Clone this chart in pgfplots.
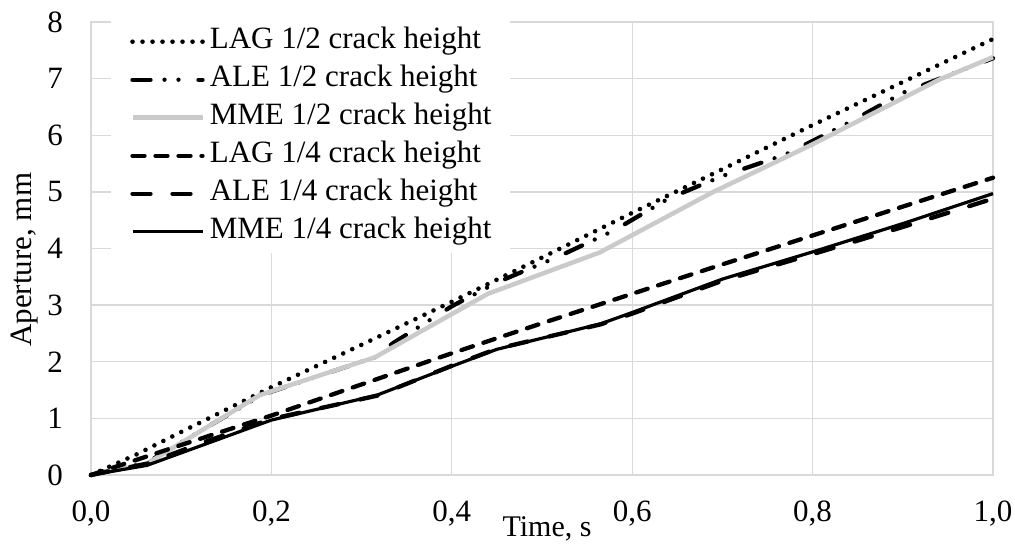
\documentclass[border=0pt]{standalone}
\usepackage{fontspec}
\setmainfont{Liberation Serif}
\usepackage{pgfplots}
\pgfplotsset{compat=1.18}
\definecolor{gridgray}{RGB}{217,217,217}
\definecolor{mmegray}{RGB}{202,202,202}
\begin{document}
\begin{tikzpicture}
\begin{axis}[
  at={(91bp,69bp)}, anchor=south west,
  scale only axis, width=902bp, height=453bp,
  xmin=0, xmax=1, ymin=0, ymax=8,
  xtick={0,0.2,0.4,0.6,0.8,1.0},
  xticklabels={{0,0},{0,2},{0,4},{0,6},{0,8},{1,0}},
  ytick={0,1,2,3,4,5,6,7,8},
  yticklabels={0,1,2,3,4,5,6,7,8},
  grid=major,
  grid style={draw=gridgray, line width=1.3bp},
  axis line style={draw=gridgray, line width=1.3bp},
  major tick length=0pt,
  tick style={draw=none},
  clip=false,
  xticklabel style={font=\fontsize{31bp}{36bp}\selectfont, anchor=base, inner sep=0pt, yshift=-46bp},
  yticklabel style={font=\fontsize{31bp}{36bp}\selectfont, anchor=east, inner sep=0pt, xshift=-28bp},
  xlabel={Time, s},
  xlabel style={at={(axis description cs:0.5,0)}, anchor=base, inner sep=0pt, yshift=-61bp, xshift=5bp, font=\fontsize{30bp}{34bp}\selectfont},
  ylabel={Aperture, mm},
  ylabel style={at={(axis description cs:-0.0732,0.475)}, anchor=center, inner sep=0pt, font=\fontsize{31bp}{35bp}\selectfont},
  legend image code/.code={\draw[#1] (0bp,0bp) -- (70bp,0bp);},
  legend style={at={(axis description cs:0.0222,1.0033)}, anchor=north west,
    draw=none, fill=white, inner xsep=19bp, inner ysep=7bp,
    row sep=10bp, column sep=5bp,
    font=\fontsize{31bp}{36bp}\selectfont,
    cells={anchor=west},
    nodes={inner sep=0pt, text height=21bp, text depth=7bp}},
  legend cell align=left,
]
% LAG 1/2
\addplot[black, line width=4.6bp, line cap=round, dash pattern=on 0bp off 10bp] coordinates {
(0,0) (0.05,0.36) (0.1,0.76) (0.2,1.55) (0.3,2.3) (0.4,3.06) (0.5,3.84) (0.6,4.63) (0.7,5.4) (0.8,6.18) (0.9,6.94) (1.0,7.7)};
\addlegendentry{LAG 1/2 crack height}
% ALE 1/2
\addplot[black, line width=4.3bp, line cap=round, dash pattern=on 18bp off 14bp on 0bp off 14bp on 0bp off 20bp] coordinates {
(0,0) (0.062,0.22) (0.19,1.42) (0.315,2.08) (0.335,2.33) (0.387,2.85) (0.4,2.98) (0.45,3.4) (0.52,3.87) (0.58,4.32) (0.64,4.88) (0.7,5.28) (0.77,5.66) (0.84,6.22) (0.9,6.75) (1.0,7.36)};
\addlegendentry{ALE 1/2 crack height}
% MME 1/2
\addplot[mmegray, line width=4.5bp, line join=round] coordinates {
(0,0) (0.062,0.2) (0.187,1.41) (0.315,2.08) (0.44,3.2) (0.564,3.93) (0.69,5.0) (0.8,5.84) (0.94,6.98) (1.0,7.38)};
\addlegendentry{MME 1/2 crack height}
% LAG 1/4
\addplot[black, line width=4.3bp, line cap=round, dash pattern=on 12bp off 11bp] coordinates {
(0,0) (0.1,0.53) (0.2,1.05) (0.3,1.6) (0.4,2.15) (0.5,2.68) (0.6,3.2) (0.7,3.72) (0.8,4.23) (0.9,4.74) (1.0,5.25)};
\addlegendentry{LAG 1/4 crack height}
% ALE 1/4
\addplot[black, line width=4.3bp, line cap=round, dash pattern=on 18bp off 22bp] coordinates {
(0,0) (0.062,0.2) (0.12,0.55) (0.2,0.99) (0.317,1.4) (0.4,1.93) (0.45,2.23) (0.565,2.66) (0.6,2.85) (0.7,3.43) (0.8,3.9) (0.9,4.38) (1.0,4.88)};
\addlegendentry{ALE 1/4 crack height}
% MME 1/4
\addplot[black, line width=3.2bp, line join=round] coordinates {
(0,0) (0.062,0.17) (0.2,0.97) (0.317,1.41) (0.4,1.92) (0.45,2.22) (0.565,2.67) (0.6,2.87) (0.7,3.46) (0.8,3.94) (0.9,4.44) (1.0,4.97)};
\addlegendentry{MME 1/4 crack height}
\end{axis}
\pgfresetboundingbox
\path (0bp,0bp) rectangle (1015bp,544bp);
\end{tikzpicture}
\end{document}
